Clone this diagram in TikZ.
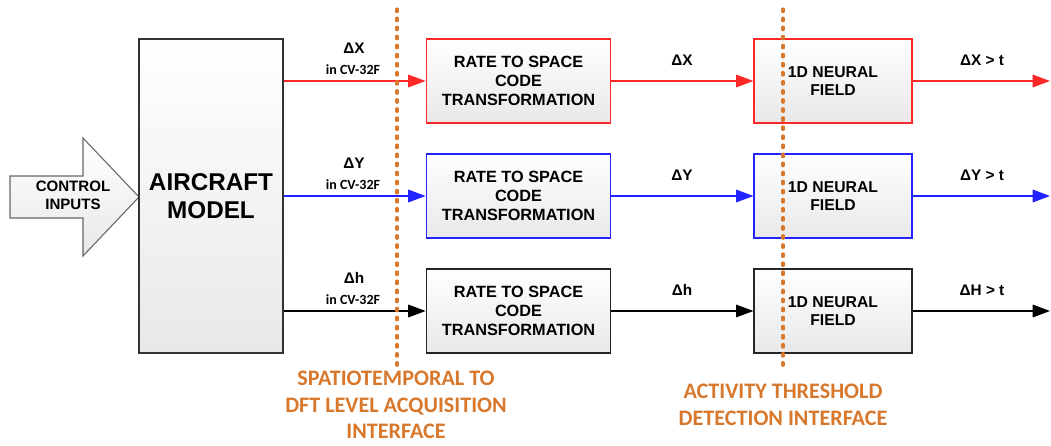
\documentclass[tikz,border=0pt]{standalone}
\usepackage{fontspec}
\setmainfont{Liberation Sans}
\newfontfamily\calibfont{Carlito}
\usetikzlibrary{arrows.meta}

\definecolor{linered}{RGB}{255,40,40}
\definecolor{lineblue}{RGB}{35,35,255}
\definecolor{dotorange}{RGB}{215,120,45}

\begin{document}
\begin{tikzpicture}[
  x=0.75pt, y=-0.75pt,
  box/.style={draw, rectangle, top color=white, bottom color=black!9,
              line width=0.9pt, align=center, inner sep=2pt,
              font=\bfseries\fontsize{12.2}{14.3}\selectfont},
  ratebox/.style={box, minimum width=138.5pt, minimum height=63pt},
  fieldbox/.style={box, minimum width=118.5pt, minimum height=63pt,
                   font=\bfseries\fontsize{11.8}{13.7}\selectfont},
  modelbox/.style={box, draw=black!80, minimum width=108pt, minimum height=235.5pt,
                   font=\bfseries\fontsize{18.2}{21}\selectfont},
  sig/.style={font=\bfseries\fontsize{11.5}{12}\selectfont, inner sep=0pt},
  sub/.style={font=\calibfont\bfseries\fontsize{10.5}{12}\selectfont, inner sep=0pt},
  iface/.style={text=dotorange, align=center, inner sep=0pt,
                font=\calibfont\bfseries\fontsize{16.6}{20}\selectfont},
  flow/.style={-{Triangle[length=13pt,width=9.5pt]}, line width=0.9pt},
  divider/.style={draw=dotorange, line width=2.3pt, line cap=round,
                  dash pattern=on 2pt off 4.8pt}
]
\useasboundingbox (0,0) rectangle (1051,446);

% ---- Input arrow ----
\draw[draw=black!60, line width=0.8pt, top color=white, bottom color=black!9]
  (10,176) -- (83,176) -- (83,138) -- (139,197) -- (83,256) -- (83,218)
  -- (10,218) -- cycle;
\node[align=center, inner sep=0pt, font=\bfseries\fontsize{11.3}{13.7}\selectfont]
  (ctrl) at (73,195) {CONTROL\\INPUTS};

% ---- Aircraft model ----
\node[modelbox] (model) at (211,196) {AIRCRAFT\\MODEL};

% ---- Rate to space code ----
\node[ratebox, draw=linered] (rx) at (518.5,81) {RATE TO SPACE\\CODE\\TRANSFORMATION};
\node[ratebox, draw=lineblue] (ry) at (518.5,196) {RATE TO SPACE\\CODE\\TRANSFORMATION};
\node[ratebox, draw=black!85] (rh) at (518.5,311) {RATE TO SPACE\\CODE\\TRANSFORMATION};

% ---- Neural fields ----
\node[fieldbox, draw=linered] (nx) at (833,81) {1D NEURAL\\FIELD};
\node[fieldbox, draw=lineblue] (ny) at (833,196) {1D NEURAL\\FIELD};
\node[fieldbox, draw=black!85] (nh) at (833,311) {1D NEURAL\\FIELD};

% ---- Output ends ----
\coordinate (ox) at (1050,81);
\coordinate (oy) at (1050,196);
\coordinate (oh) at (1050,311);

% ---- Edges ----
\draw[flow, linered] (model.east |- rx.west) -- (rx.west);
\draw[flow, lineblue] (model.east |- ry.west) -- (ry.west);
\draw[flow, black] (model.east |- rh.west) -- (rh.west);

\draw[flow, linered] (rx) -- (nx);
\draw[flow, lineblue] (ry) -- (ny);
\draw[flow, black] (rh) -- (nh);

\draw[flow, linered] (nx) -- (ox);
\draw[flow, lineblue] (ny) -- (oy);
\draw[flow, black] (nh) -- (oh);

% ---- Signal labels ----
\node[sig] (lx) at (354,48) {ΔX};
\node[sub] (sx) at (353,70) {in CV-32F};
\node[sig] (ly) at (354,163) {ΔY};
\node[sub] (sy) at (353,185) {in CV-32F};
\node[sig] (lh) at (354,278) {Δh};
\node[sub] (sh) at (353,300) {in CV-32F};

\node[sig] (mx) at (682,60) {ΔX};
\node[sig] (my) at (682,175) {ΔY};
\node[sig] (mh) at (682,290) {Δh};

\node[sig] (tx) at (982,60) {ΔX > t};
\node[sig] (ty) at (982,175) {ΔY > t};
\node[sig] (th) at (982,290) {ΔH > t};

% ---- Interfaces ----
\coordinate (d1top) at (397,9);
\coordinate (d1bot) at (397,367);
\coordinate (d2top) at (783,9);
\coordinate (d2bot) at (783,367);
\draw[divider] (d1top) -- (d1bot);
\draw[divider] (d2top) -- (d2bot);

\node[iface] (acq) at (396,405) {SPATIOTEMPORAL TO\\DFT LEVEL ACQUISITION\\INTERFACE};
\node[iface] (det) at (783,405) {ACTIVITY THRESHOLD\\DETECTION INTERFACE};

\end{tikzpicture}
\end{document}
